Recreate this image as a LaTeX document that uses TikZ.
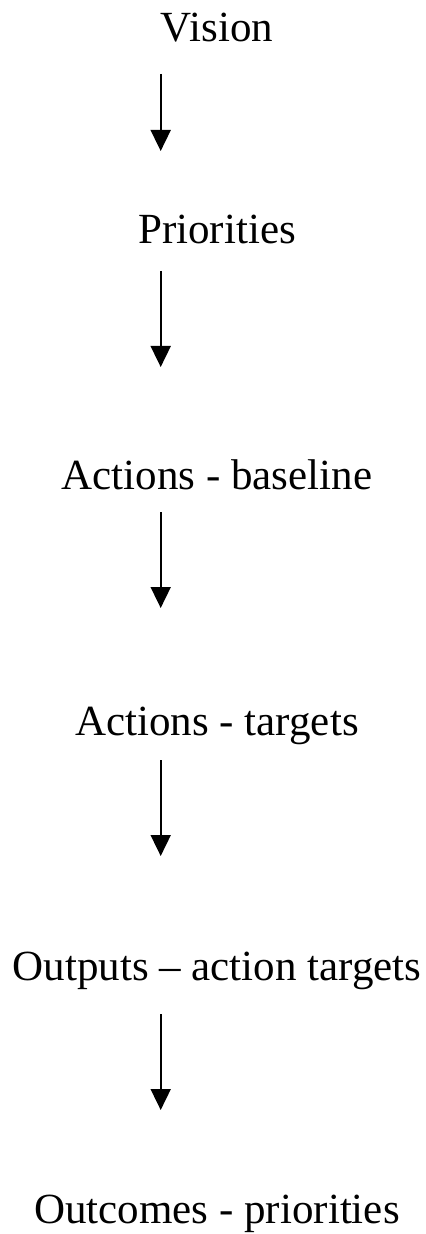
\documentclass[tikz,border=0pt]{standalone}
\usepackage{fontspec}
\setmainfont{Liberation Serif}
\usetikzlibrary{arrows.meta,positioning}
\tikzset{
  stage/.style={anchor=base,inner sep=0pt,font=\fontsize{21.5}{26}\selectfont},
  flow/.style ={-{Triangle[length=10.5pt,width=10pt]},line width=0.9pt},
}

\begin{document}
\begin{tikzpicture}[x=0.5pt,y=-0.5pt]
  \useasboundingbox (0,0) rectangle (426,1234);
  % stages
  \node[stage] (vision) at (217,42)   {Vision};
  \node[stage] (prio)   at (217,244)  {Priorities};
  \node[stage] (actb)   at (217,489)  {Actions - baseline};
  \node[stage] (actt)   at (217,735)  {Actions - targets};
  \node[stage] (outp)   at (217,980)  {Outputs -- action targets};
  \node[stage] (outc)   at (217,1223) {Outcomes - priorities};
  % arrow ends
  \coordinate (a1s) at (160.7,74);   \coordinate (a1e) at (160.7,151);
  \coordinate (a2s) at (160.7,271);  \coordinate (a2e) at (160.7,367);
  \coordinate (a3s) at (160.7,512);  \coordinate (a3e) at (160.7,608);
  \coordinate (a4s) at (160.7,760);  \coordinate (a4e) at (160.7,856);
  \coordinate (a5s) at (160.7,1014); \coordinate (a5e) at (160.7,1110);
  % arrows
  \foreach \i in {1,...,5}
    \draw[flow] (a\i s) -- (a\i e);
\end{tikzpicture}
\end{document}
